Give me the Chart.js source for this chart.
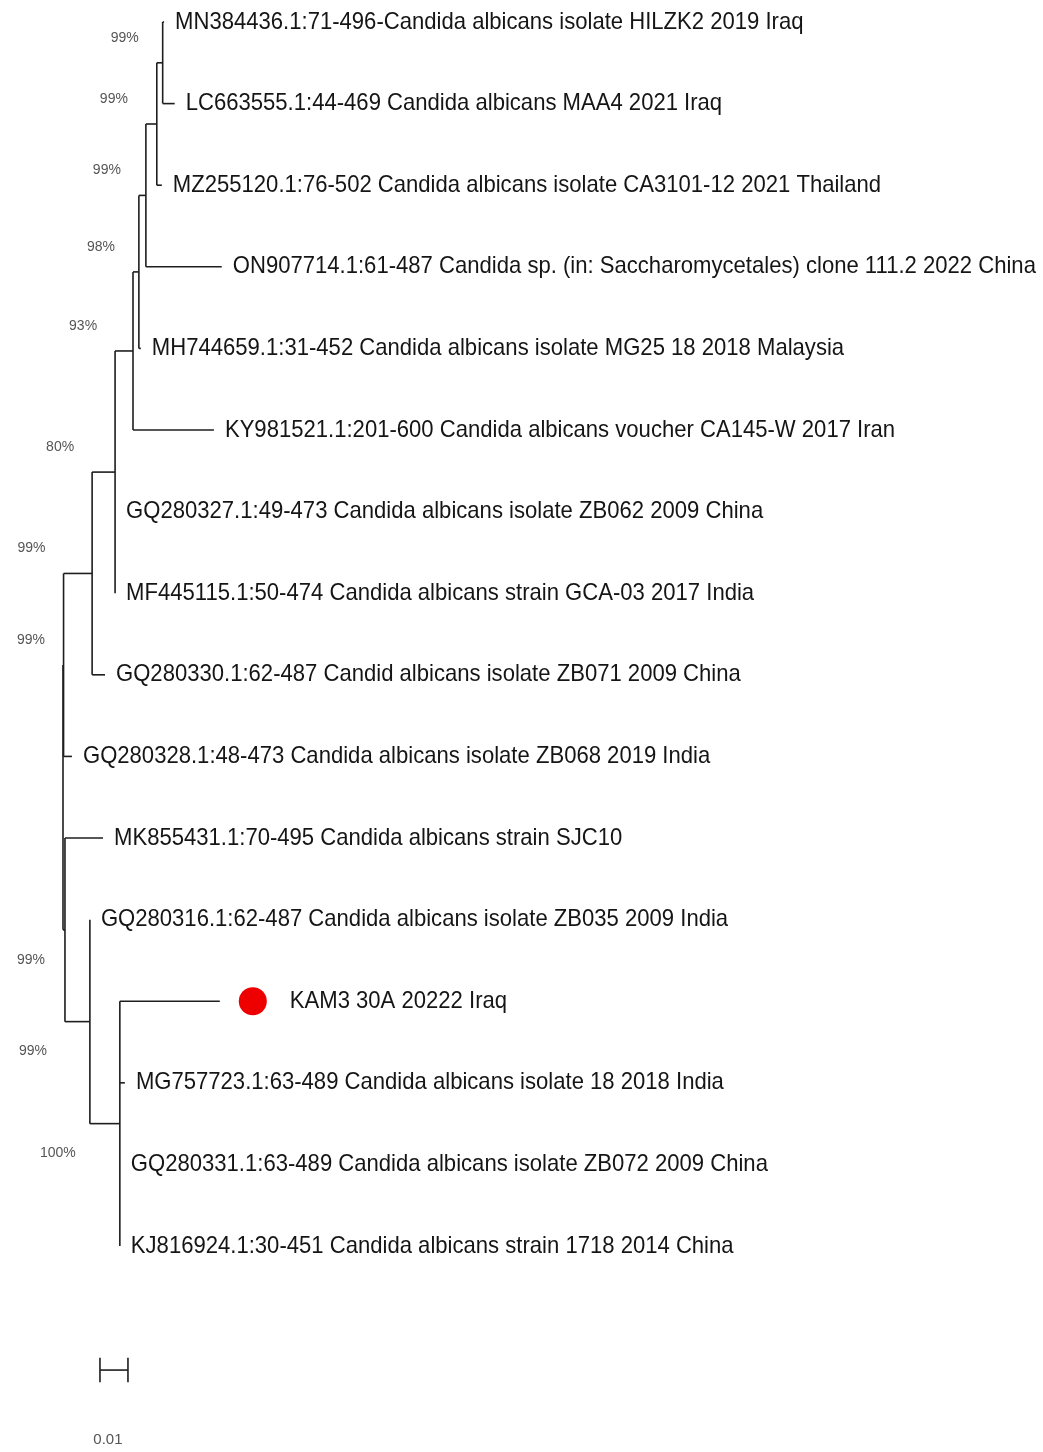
<!DOCTYPE html>
<html lang="en">
<head>
<meta charset="UTF-8">
<title>Candida albicans ITS tree</title>
<style>
  body { margin: 0; background: #fff; }
  #wrap { width: 1043px; height: 1452px; }
</style>
</head>
<body>
<div id="wrap"><canvas id="tree" width="1043" height="1452"></canvas></div>
<script src="https://cdn.jsdelivr.net/npm/chart.js"></script>
<script>
// tips, top to bottom
const leafNames = [
  "MN384436.1:71-496-Candida albicans isolate HILZK2 2019 Iraq",
  "LC663555.1:44-469 Candida albicans MAA4 2021 Iraq",
  "MZ255120.1:76-502 Candida albicans isolate CA3101-12 2021 Thailand",
  "ON907714.1:61-487 Candida sp. (in: Saccharomycetales) clone 111.2 2022 China",
  "MH744659.1:31-452 Candida albicans isolate MG25 18 2018 Malaysia",
  "KY981521.1:201-600 Candida albicans voucher CA145-W 2017 Iran",
  "GQ280327.1:49-473 Candida albicans isolate ZB062 2009 China",
  "MF445115.1:50-474 Candida albicans strain GCA-03 2017 India",
  "GQ280330.1:62-487 Candid albicans isolate ZB071 2009 China",
  "GQ280328.1:48-473 Candida albicans isolate ZB068 2019 India",
  "MK855431.1:70-495 Candida albicans strain SJC10",
  "GQ280316.1:62-487 Candida albicans isolate ZB035 2009 India",
  "KAM3 30A 20222 Iraq",
  "MG757723.1:63-489 Candida albicans isolate 18 2018 India",
  "GQ280331.1:63-489 Candida albicans isolate ZB072 2009 China",
  "KJ816924.1:30-451 Candida albicans strain 1718 2014 China"
];
const leafParent = ["n7", "n7", "n6", "n5", "n4", "n3", "n2", "n2", "n1", "A", "E", "C", "D", "D", "D", "D"];
const leafLen = [0.0005, 0.0043, 0.0018, 0.0271, 0.0007, 0.0289, 0, 0, 0.0046, 0.003, 0.0136, 0, 0.0357, 0.0018, 0, 0];
const highlighted = ["KAM3 30A 20222 Iraq"];

// internal nodes
const nodeNames = ["root", "A", "n1", "n2", "n3", "n4", "n5", "n6", "n7", "E", "C", "D"];
const nodeParent = [null, "root", "A", "n1", "n2", "n3", "n4", "n5", "n6", "root", "E", "C"];
const nodeLen = [0, 0.0002, 0.0102, 0.0082, 0.0064, 0.0021, 0.0025, 0.0039, 0.0021, 0.0007, 0.0089, 0.0107];
const bootstrap = [null, 99, 99, 80, 93, 98, 99, 99, 99, 99, 99, 100];

const scaleLen = 0.01;
const scaleText = "0.01";

// build tree
const nodes = {};
nodeNames.forEach(function (n, i) {
  nodes[n] = { name: n, parent: nodeParent[i], len: nodeLen[i], children: [], leaf: false, bs: bootstrap[i] };
});
leafNames.forEach(function (n, i) {
  nodes[n] = { name: n, parent: leafParent[i], len: leafLen[i], children: [], leaf: true, y: i };
});
Object.keys(nodes).forEach(function (k) {
  const nd = nodes[k];
  if (nd.parent) nodes[nd.parent].children.push(nd);
});

function place(nd, px) {
  nd.x = px + nd.len;
  if (!nd.leaf) {
    let lo = Infinity, hi = -Infinity;
    nd.children.forEach(function (c) {
      place(c, nd.x);
      lo = Math.min(lo, c.y);
      hi = Math.max(hi, c.y);
    });
    nd.lo = lo; nd.hi = hi;
    nd.y = (lo + hi) / 2;
  }
}
place(nodes.root, 0);

const lineColor = "#1e1e1e";
const datasets = [];
Object.keys(nodes).forEach(function (k) {
  const nd = nodes[k];
  if (nd.parent) {
    const p = nodes[nd.parent];
    datasets.push({ data: [{ x: p.x, y: nd.y }, { x: nd.x, y: nd.y }] });
  }
  if (!nd.leaf) {
    datasets.push({ data: [{ x: nd.x, y: nd.lo }, { x: nd.x, y: nd.hi }] });
  }
});

// scale bar
const sbX = 0.0132, sbY = 16.52, cap = 0.15;
datasets.push({ data: [{ x: sbX, y: sbY }, { x: sbX + scaleLen, y: sbY }] });
datasets.push({ data: [{ x: sbX, y: sbY - cap }, { x: sbX, y: sbY + cap }] });
datasets.push({ data: [{ x: sbX + scaleLen, y: sbY - cap }, { x: sbX + scaleLen, y: sbY + cap }] });

datasets.forEach(function (d) {
  d.showLine = true;
  d.borderColor = lineColor;
  d.borderWidth = 1.6;
  d.pointRadius = 0;
  d.fill = false;
});

const labelPlugin = {
  id: "treeLabels",
  afterDatasetsDraw: function (chart) {
    const ctx = chart.ctx;
    const xs = chart.scales.x, ys = chart.scales.y;
    ctx.save();
    ctx.textBaseline = "middle";
    ctx.fillStyle = "#151515";
    ctx.font = "24px 'Liberation Sans', Arial, sans-serif";
    leafNames.forEach(function (name) {
      const nd = nodes[name];
      let px = xs.getPixelForValue(nd.x) + 11;
      const py = ys.getPixelForValue(nd.y);
      if (highlighted.indexOf(name) >= 0) {
        ctx.beginPath();
        ctx.fillStyle = "#ee0000";
        ctx.arc(px + 22, py, 14, 0, Math.PI * 2);
        ctx.fill();
        ctx.fillStyle = "#151515";
        px += 59;
      }
      ctx.save();
      ctx.translate(px, py);
      ctx.scale(0.92, 1);
      ctx.fillText(name, 0, 0);
      ctx.restore();
    });

    // bootstrap values
    ctx.font = "14px 'Liberation Sans', Arial, sans-serif";
    ctx.fillStyle = "#555";
    ctx.textAlign = "center";
    const rootY = nodes.root.y;
    nodeNames.forEach(function (n) {
      const nd = nodes[n];
      if (nd.bs == null) return;
      const p = nodes[nd.parent];
      const cx = xs.getPixelForValue(p.x) - 32;
      const cy = ys.getPixelForValue(nd.y) + (nd.y < rootY ? -25 : 30);
      ctx.fillText(nd.bs + "%", cx, cy);
    });

    ctx.font = "15px 'Liberation Sans', Arial, sans-serif";
    ctx.fillText(scaleText, xs.getPixelForValue(sbX + scaleLen / 2) - 6, ys.getPixelForValue(sbY) + 70);
    ctx.restore();
  }
};

new Chart(document.getElementById("tree"), {
  type: "scatter",
  data: { datasets: datasets },
  options: {
    responsive: false,
    animation: false,
    layout: { padding: 0 },
    plugins: { legend: { display: false }, tooltip: { enabled: false } },
    scales: {
      x: { type: "linear", display: false, min: -0.0225, max: 0.35 },
      y: { type: "linear", display: false, reverse: true, min: -0.2696, max: 17.524 }
    }
  },
  plugins: [labelPlugin]
});
</script>
</body>
</html>
